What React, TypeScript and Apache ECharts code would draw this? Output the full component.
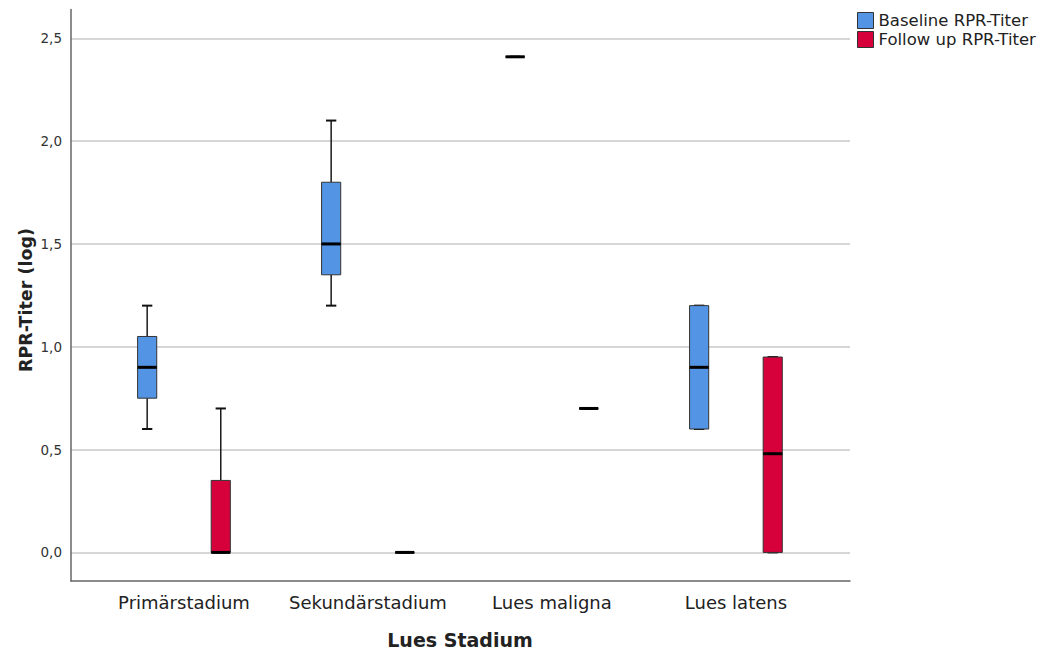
import React, { useEffect, useRef } from "react";
import * as echarts from "echarts";

const categories = ["Primärstadium", "Sekundärstadium", "Lues maligna", "Lues latens"];
const seriesNames = ["Baseline RPR-Titer", "Follow up RPR-Titer"];
const xTitle = "Lues Stadium";
const yTitle = "RPR-Titer (log)";
// [min, Q1, median, Q3, max] per category
const baselineStats = [
  [0.6, 0.75, 0.9, 1.05, 1.2],
  [1.2, 1.35, 1.5, 1.8, 2.1],
  [2.41, 2.41, 2.41, 2.41, 2.41],
  [0.6, 0.6, 0.9, 1.2, 1.2],
];
const followUpStats = [
  [0, 0, 0, 0.35, 0.7],
  [0, 0, 0, 0, 0],
  [0.7, 0.7, 0.7, 0.7, 0.7],
  [0, 0, 0.48, 0.95, 0.95],
];
const yTicks = [0, 0.5, 1.0, 1.5, 2.0, 2.5];
const colors = ["#5394E4", "#D6003A"];

const FONT = "DejaVu Sans";

function makeRender(sign: number) {
  return (params: any, api: any) => {
    const xi = api.value(0);
    const band = api.size([1, 0])[0];
    const cx = api.coord([xi, 0])[0] + sign * band * 0.2;
    const y = (i: number) => api.coord([xi, api.value(i)])[1];
    const yMin = y(1), yQ1 = y(2), yMed = y(3), yQ3 = y(4), yMax = y(5);
    const hw = band * 0.052;
    const cap = band * 0.028;
    const color = api.visual("color");
    const lineStyle = { stroke: "#1a1a1a", lineWidth: 1.5 };
    return {
      type: "group",
      children: [
        { type: "line", shape: { x1: cx, y1: yMax, x2: cx, y2: yQ3 }, style: lineStyle },
        { type: "line", shape: { x1: cx, y1: yQ1, x2: cx, y2: yMin }, style: lineStyle },
        { type: "line", shape: { x1: cx - cap, y1: yMax, x2: cx + cap, y2: yMax }, style: { stroke: "#111", lineWidth: 2 } },
        { type: "line", shape: { x1: cx - cap, y1: yMin, x2: cx + cap, y2: yMin }, style: { stroke: "#111", lineWidth: 2 } },
        {
          type: "rect",
          shape: { x: cx - hw, y: yQ3, width: hw * 2, height: Math.max(0, yQ1 - yQ3) },
          style: { fill: color, stroke: "#333", lineWidth: 1 },
        },
        { type: "line", shape: { x1: cx - hw, y1: yMed, x2: cx + hw, y2: yMed }, style: { stroke: "#000", lineWidth: 3 } },
      ],
    };
  };
}

export default function App() {
  const ref = useRef<HTMLDivElement>(null);
  useEffect(() => {
    const chart = echarts.init(ref.current!, null, { renderer: "svg" });
    const toData = (stats: number[][]) => stats.map((s, i) => [i, ...s]);
    chart.setOption({
      animation: false,
      backgroundColor: "#fff",
      textStyle: { fontFamily: FONT },
      legend: {
        orient: "vertical",
        left: 852,
        top: 7,
        itemWidth: 16,
        itemHeight: 16,
        itemGap: 2,
        textStyle: { fontSize: 16.5, lineHeight: 17, color: "#222", fontFamily: FONT },
        data: seriesNames.map((n, i) => ({
          name: n,
          icon: "rect",
          itemStyle: { color: colors[i], borderColor: "#333", borderWidth: 1 },
        })),
      },
      graphic: [
        {
          type: "text",
          x: 460,
          y: 640,
          style: {
            text: xTitle,
            align: "center",
            verticalAlign: "middle",
            fontSize: 19,
            fontWeight: "bold",
            fill: "#222",
            fontFamily: FONT,
          },
        },
        {
          type: "text",
          x: 26,
          y: 300,
          rotation: Math.PI / 2,
          style: {
            text: yTitle,
            align: "center",
            verticalAlign: "middle",
            fontSize: 17.5,
            fontWeight: "bold",
            fill: "#222",
            fontFamily: FONT,
          },
        },
      ],
      grid: { left: 71, right: 193, top: 9.5, bottom: 72, outerBoundsMode: "none", containLabel: false },
      xAxis: {
        type: "value",
        min: -0.614,
        max: 3.62,
        axisLine: { show: true, onZero: false, lineStyle: { color: "#666", width: 1.5 } },
        axisTick: { show: false, customValues: [0, 1, 2, 3] },
        splitLine: { show: false },
        axisLabel: {
          customValues: [0, 1, 2, 3],
          formatter: (v: number) => categories[Math.round(v)] ?? "",
          fontSize: 18,
          color: "#222",
          margin: 12,
          fontFamily: FONT,
        },
      },
      yAxis: {
        type: "value",
        min: -0.139,
        max: 2.64,
        axisLine: { show: true, onZero: false, lineStyle: { color: "#666", width: 1.5 } },
        axisTick: { show: false, customValues: yTicks },
        splitLine: { show: true, lineStyle: { color: "#c8c8c8", width: 1.5 } },
        axisLabel: {
          customValues: yTicks,
          formatter: (v: number) => v.toFixed(1).replace(".", ","),
          fontSize: 13.5,
          color: "#333",
          margin: 9,
          fontFamily: FONT,
        },
      },
      series: [
        {
          name: seriesNames[0],
          type: "custom",
          renderItem: makeRender(-1),
          itemStyle: { color: colors[0], borderColor: "#333", borderWidth: 1 },
          encode: { x: 0, y: [1, 2, 3, 4, 5] },
          data: toData(baselineStats),
        },
        {
          name: seriesNames[1],
          type: "custom",
          renderItem: makeRender(1),
          itemStyle: { color: colors[1], borderColor: "#333", borderWidth: 1 },
          encode: { x: 0, y: [1, 2, 3, 4, 5] },
          data: toData(followUpStats),
        },
      ],
    });
    return () => chart.dispose();
  }, []);
  return (
    <div
      ref={ref}
      style={{ position: "fixed", left: 0, top: 0, width: 1043, height: 653 }}
    />
  );
}
